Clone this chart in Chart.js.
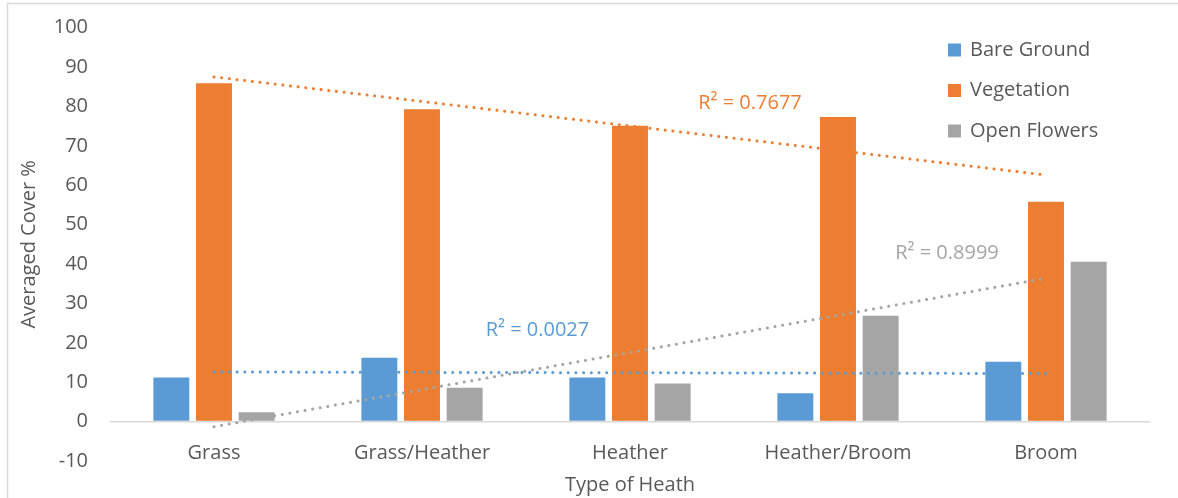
<!DOCTYPE html>
<html><head><meta charset="utf-8">
<script src="https://cdn.jsdelivr.net/npm/chart.js@4.4.1/dist/chart.umd.min.js"></script>
<style>html,body{margin:0;padding:0;background:#fff;}canvas{display:block;}</style>
</head><body>
<canvas id="c" width="1178" height="498"></canvas>
<script>
// ---- data ----
const categories = ['Grass', 'Grass/Heather', 'Heather', 'Heather/Broom', 'Broom'];
const seriesNames = ['Bare Ground', 'Vegetation', 'Open Flowers'];
const bareGround = [11.2, 16.2, 11.2, 7.2, 15.2];
const vegetation = [85.9, 79.3, 75.1, 77.3, 55.8];
const openFlowers = [2.4, 8.6, 9.7, 26.9, 40.6];
// linear trendline end points (first and last category)
const bareTrend = [12.6, null, null, null, 12.2];
const vegTrend = [87.5, null, null, null, 62.6];
const flowerTrend = [-1.3, null, null, null, 36.4];
const r2Labels = ['R\u00B2 = 0.0027', 'R\u00B2 = 0.7677', 'R\u00B2 = 0.8999'];
const yMin = -10, yMax = 100, yStep = 10;
const xTitle = 'Type of Heath';
const yTitle = 'Averaged Cover %';

// ---- styles ----
const colors = ['#5B9BD5', '#ED7D31', '#A5A5A5'];
const textColor = '#595959';
const FONT = "'Open Sans', 'Noto Sans', sans-serif";
Chart.defaults.font.family = FONT;
Chart.defaults.font.size = 20;
Chart.defaults.color = textColor;

const deco = {
  id: 'deco',
  beforeDraw(chart) {
    const c = chart.ctx;
    c.save();
    c.fillStyle = '#fff';
    c.fillRect(0, 0, chart.width, chart.height);
    c.strokeStyle = '#D9D9D9';
    c.lineWidth = 1.5;
    c.strokeRect(7.5, 3.5, chart.width + 40, chart.height + 40);
    c.restore();
  },
  afterDraw(chart) {
    const c = chart.ctx, xs = chart.scales.x, ys = chart.scales.y;
    c.save();
    c.font = '20px ' + FONT;
    c.textBaseline = 'middle';
    // R² labels (placed in data space)
    const spots = [[1.555, 23.3], [2.577, 80.9], [3.524, 42.8]];
    spots.forEach((s, i) => {
      c.fillStyle = colors[i];
      c.textAlign = 'center';
      c.fillText(r2Labels[i], xs.getPixelForValue(s[0]), ys.getPixelForValue(s[1]));
    });
    // legend inside plot area, top right
    seriesNames.forEach((n, i) => {
      const cy = 50 + i * 40.5;
      c.fillStyle = colors[i];
      c.fillRect(948, cy - 6.5, 13, 13);
      c.fillStyle = textColor;
      c.textAlign = 'left';
      c.fillText(n, 970, cy);
    });
    c.restore();
  }
};

const trendStyle = (data, color) => ({
  type: 'line', data, borderColor: color, backgroundColor: color,
  borderWidth: 3, borderDash: [0.1, 7.6], borderCapStyle: 'round',
  pointRadius: 0, spanGaps: true, fill: false, order: 0, tension: 0
});
const barStyle = (label, data, color) => ({
  type: 'bar', label, data, backgroundColor: color, borderWidth: 0,
  categoryPercentage: 0.615, barPercentage: 0.843, order: 1
});

new Chart(document.getElementById('c'), {
  data: {
    labels: categories,
    datasets: [
      barStyle(seriesNames[0], bareGround, colors[0]),
      barStyle(seriesNames[1], vegetation, colors[1]),
      barStyle(seriesNames[2], openFlowers, colors[2]),
      trendStyle(bareTrend, colors[0]),
      trendStyle(vegTrend, colors[1]),
      trendStyle(flowerTrend, colors[2])
    ]
  },
  options: {
    responsive: false,
    animation: false,
    layout: { padding: { left: 0, right: 28, top: 27.7, bottom: 0 } },
    plugins: { legend: { display: false }, tooltip: { enabled: false } },
    scales: {
      x: {
        type: 'category',
        grid: { display: false },
        border: { display: false },
        ticks: { color: textColor, mirror: true, padding: -4, maxRotation: 0, autoSkip: false, font: { size: 20 } },
        title: { display: true, text: xTitle, color: textColor, font: { size: 20 }, padding: { top: 0, bottom: 1 } },
        afterFit(s) { s.height = 37; s.paddingLeft = 0; s.paddingRight = 0; }
      },
      y: {
        min: yMin, max: yMax,
        ticks: { stepSize: yStep, color: textColor, padding: 22, font: { size: 20 } },
        grid: {
          drawTicks: false,
          color: (ctx) => (ctx.tick && ctx.tick.value === 0) ? '#D9D9D9' : 'rgba(0,0,0,0)',
          lineWidth: 1.5
        },
        border: { display: false },
        title: { display: true, text: yTitle, color: textColor, font: { size: 20 }, padding: { top: 17, bottom: 0 } },
        afterFit(s) { s.width = 110; s.paddingTop = 0; s.paddingBottom = 0; }
      }
    }
  },
  plugins: [deco]
});
</script>
</body></html>
